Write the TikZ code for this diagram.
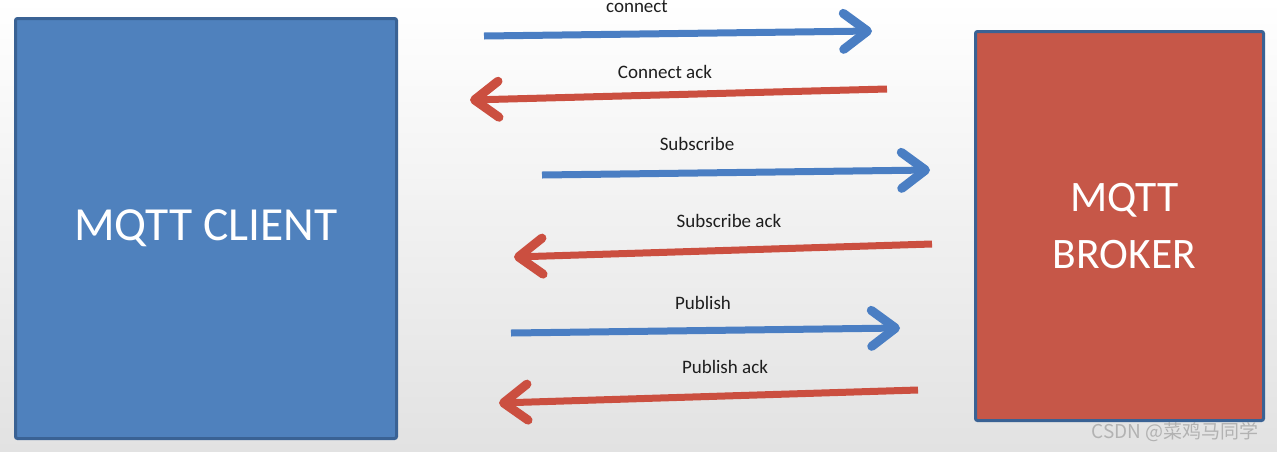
\documentclass[tikz,border=0pt]{standalone}
\usepackage{fontspec}
\setmainfont{Carlito}
\newfontfamily\markfont{Noto Sans CJK SC}
\usetikzlibrary{arrows.meta,positioning}
\definecolor{clientblue}{HTML}{4F81BD}
\definecolor{brokerred}{HTML}{C65748}
\definecolor{rimblue}{HTML}{3A6294}
\definecolor{reqblue}{HTML}{4A7EC3}
\definecolor{ackred}{HTML}{CB4F40}
\definecolor{floor}{HTML}{E2E2E2}
\definecolor{ink}{HTML}{1E1E1E}

\begin{document}
\begin{tikzpicture}[x=1pt,y=-1pt,
  every node/.style={font=\fontsize{19}{22}\selectfont,text=ink},
  party/.style={draw=rimblue,line width=3pt,rounded corners=2pt,inner sep=0pt,text=white,align=center},
  lbl/.style={anchor=base},
  req/.style={draw=reqblue,line width=7pt,-{Straight Barb[length=24pt,width=36pt,line width=9pt,line cap=round,line join=round]}},
  ack/.style={req,draw=ackred}
]
\useasboundingbox (0,0) rectangle (1277,451);
\shade[top color=white,bottom color=floor] (0,0) rectangle (1277,451);

\node[party,fill=clientblue,minimum width=381pt,minimum height=420pt,font=\fontsize{47.5}{50}\selectfont] (client) at (206,228.5) {MQTT CLIENT};
\node[party,fill=brokerred,minimum width=288pt,minimum height=389pt,font=\fontsize{43.5}{57}\selectfont] (broker) at (1119.5,226) {\hspace*{10pt}MQTT\\\hspace*{10pt}BROKER};

% message ends
\coordinate (con0) at (484,36);  \coordinate (con1) at (872,31);
\coordinate (cack0) at (887,89); \coordinate (cack1) at (470,100);
\coordinate (sub0) at (542,175); \coordinate (sub1) at (930,170);
\coordinate (sack0) at (932,244); \coordinate (sack1) at (514,257);
\coordinate (pub0) at (511,333); \coordinate (pub1) at (900,328);
\coordinate (pack0) at (918,390); \coordinate (pack1) at (499,403);

\draw[req] (con0) -- (con1);
\draw[ack] (cack0) -- (cack1);
\draw[req] (sub0) -- (sub1);
\draw[ack] (sack0) -- (sack1);
\draw[req] (pub0) -- (pub1);
\draw[ack] (pack0) -- (pack1);

\node[lbl] (conlbl) at (637,12) {connect};
\node[lbl] (cacklbl) at (665,78) {Connect ack};
\node[lbl] (sublbl) at (697,150) {Subscribe};
\node[lbl] (sacklbl) at (729,227) {Subscribe ack};
\node[lbl] (publbl) at (703,309) {Publish};
\node[lbl] (packlbl) at (725,373) {Publish ack};

\node[anchor=base east,text=black!30,font=\markfont\fontsize{19}{22}\selectfont] (mark) at (1262,438) {CSDN @菜鸡马同学};
\end{tikzpicture}
\end{document}
